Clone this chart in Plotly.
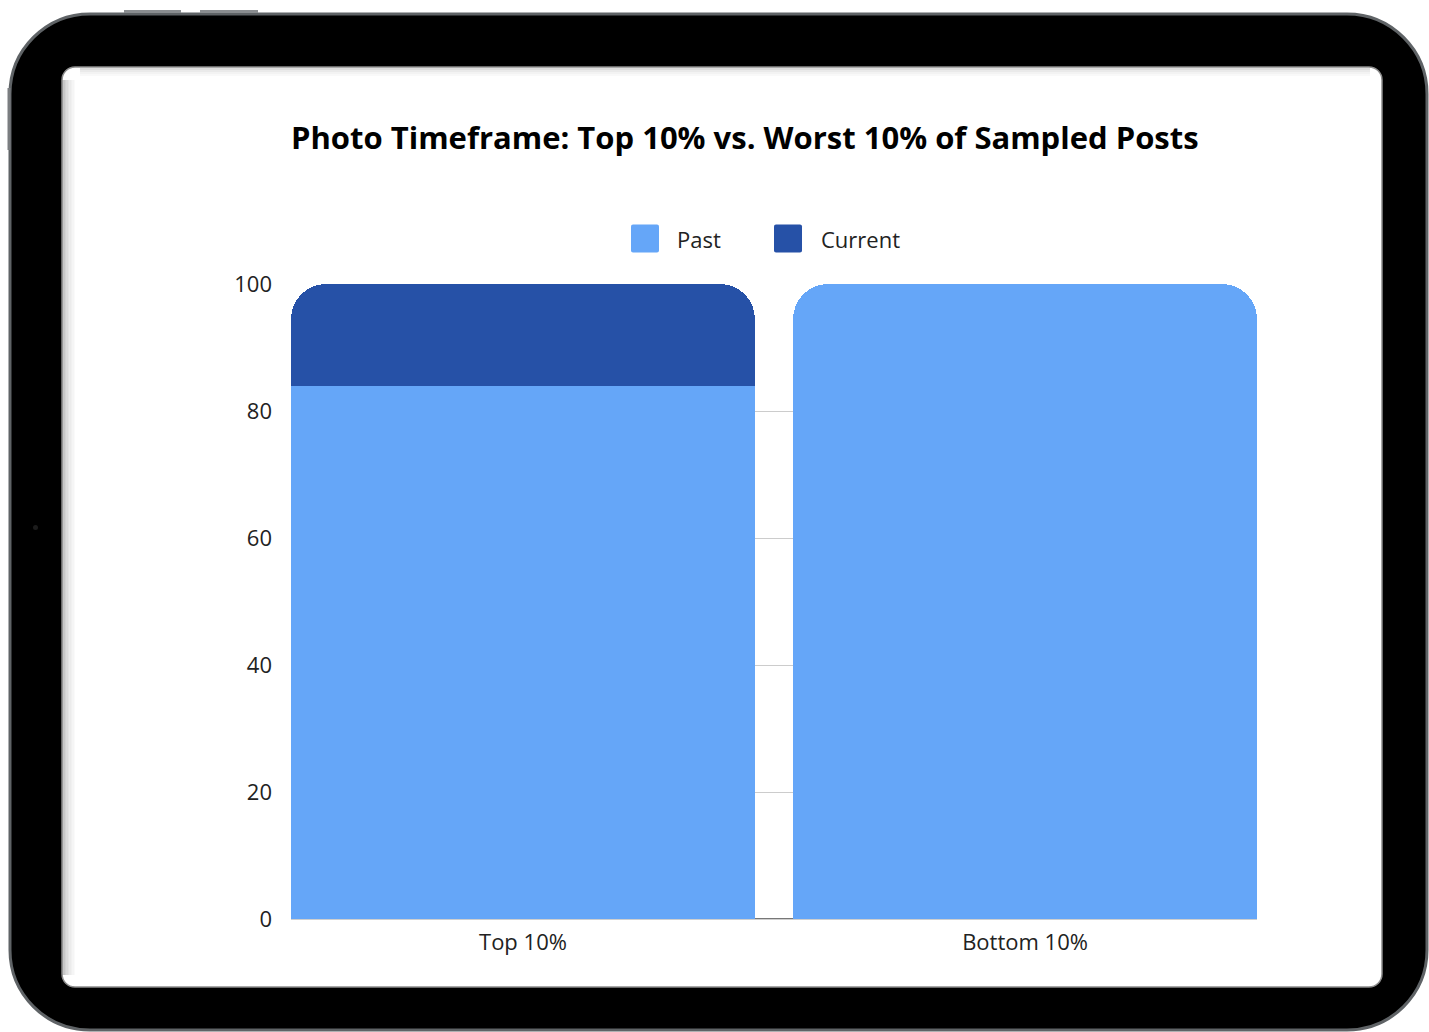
import plotly.graph_objects as go

# ---- data ----
categories = ["Top 10%", "Bottom 10%"]
past = [84, 100]
current = [16, 0]
y_ticks = [0, 20, 40, 60, 80, 100]

PAST_COLOR = "#65a6f8"
CURRENT_COLOR = "#2651a7"
FONT = "Open Sans"

# ---- figure geometry (pixels) ----
W, H = 1429, 1032
PL, PR, PT, PB = 291, 1257, 284, 919  # plot area edges


def px(x):
    return (x - PL) / (PR - PL)


def py(y):
    return (PB - y) / (PB - PT)


def rounded_rect(x0, y0, x1, y1, r):
    """SVG path for a rounded rectangle, pixel coords -> paper coords."""
    k = 0.5523 * r
    pts = [
        ("M", [(x0 + r, y0)]),
        ("L", [(x1 - r, y0)]),
        ("C", [(x1 - r + k, y0), (x1, y0 + r - k), (x1, y0 + r)]),
        ("L", [(x1, y1 - r)]),
        ("C", [(x1, y1 - r + k), (x1 - r + k, y1), (x1 - r, y1)]),
        ("L", [(x0 + r, y1)]),
        ("C", [(x0 + r - k, y1), (x0, y1 - r + k), (x0, y1 - r)]),
        ("L", [(x0, y0 + r)]),
        ("C", [(x0, y0 + r - k), (x0 + r - k, y0), (x0 + r, y0)]),
    ]
    s = ""
    for cmd, ps in pts:
        s += cmd + " ".join(f"{px(a):.5f},{py(b):.5f}" for a, b in ps) + " "
    return s + "Z"


fig = go.Figure()
fig.add_trace(go.Bar(name="Past", x=categories, y=past,
                     marker=dict(color=PAST_COLOR, line=dict(width=0)),
                     showlegend=False, hoverinfo="x+y+name"))
fig.add_trace(go.Bar(name="Current", x=categories, y=current,
                     marker=dict(color=CURRENT_COLOR, line=dict(width=0)),
                     showlegend=False, hoverinfo="x+y+name"))

shapes = []
# tablet body
shapes.append(dict(type="path", xref="paper", yref="paper", layer="below",
                   path=rounded_rect(10, 14, 1427, 1030, 80),
                   fillcolor="#000000", line=dict(color="#5f6366", width=3)))
# hardware buttons
for x0, x1 in [(124, 181), (200, 258)]:
    shapes.append(dict(type="line", xref="paper", yref="paper", layer="below",
                       x0=px(x0), x1=px(x1), y0=py(11.5), y1=py(11.5),
                       line=dict(color="#8a8d90", width=3)))
shapes.append(dict(type="line", xref="paper", yref="paper", layer="below",
                   x0=px(9), x1=px(9), y0=py(88), y1=py(150),
                   line=dict(color="#7a7d80", width=3)))
# camera
shapes.append(dict(type="circle", xref="paper", yref="paper", layer="below",
                   x0=px(33), x1=px(38), y0=py(525), y1=py(530),
                   fillcolor="#1c1c1c", line=dict(width=0)))
# screen
shapes.append(dict(type="path", xref="paper", yref="paper", layer="below",
                   path=rounded_rect(62, 67, 1382, 987, 13),
                   fillcolor="#ffffff", line=dict(color="#8c8c8c", width=1.5)))
# soft inner shading along the screen's left and top edges
for i, op in enumerate([0.22, 0.14, 0.08, 0.04]):
    shapes.append(dict(type="line", xref="paper", yref="paper", layer="below",
                       x0=px(64 + 3 * i), x1=px(64 + 3 * i), y0=py(80), y1=py(975),
                       line=dict(color=f"rgba(0,0,0,{op})", width=3)))
    shapes.append(dict(type="line", xref="paper", yref="paper", layer="below",
                       x0=px(80), x1=px(1370), y0=py(69 + 2 * i), y1=py(69 + 2 * i),
                       line=dict(color=f"rgba(0,0,0,{op * 0.6})", width=2)))

# legend swatches
legend_items = [("Past", PAST_COLOR, 631, 675), ("Current", CURRENT_COLOR, 774, 819)]
annotations = []
for label, color, sx, tx in legend_items:
    shapes.append(dict(type="path", xref="paper", yref="paper",
                       path=rounded_rect(sx, 224.5, sx + 28, 252.5, 2),
                       fillcolor=color, line=dict(width=0)))
    annotations.append(dict(text=label, xref="paper", yref="paper",
                            x=px(tx), y=py(238.5), xanchor="left", yanchor="middle",
                            showarrow=False,
                            font=dict(family=FONT, size=22, color="#222222")))

# title
annotations.append(dict(text="<b>Photo Timeframe: Top 10% vs. Worst 10% of Sampled Posts</b>",
                        xref="paper", yref="paper", x=px(745), y=py(137),
                        xanchor="center", yanchor="middle", showarrow=False,
                        font=dict(family=FONT, size=31, color="#000000")))

fig.update_layout(
    width=W, height=H,
    margin=dict(l=PL, r=W - PR, t=PT, b=H - PB, pad=0),
    paper_bgcolor="#ffffff",
    plot_bgcolor="rgba(0,0,0,0)",
    barmode="stack",
    bargap=0.076,
    barcornerradius=35,
    showlegend=False,
    shapes=shapes,
    annotations=annotations,
    font=dict(family=FONT, size=22, color="#222222"),
    xaxis=dict(range=[-0.462, 1.462], showgrid=False, showline=True,
               linecolor="#cfcfcf", linewidth=1,
               ticks="", tickfont=dict(family=FONT, size=22, color="#222222"),
               ticklabelstandoff=4, fixedrange=True),
    yaxis=dict(range=[0, 100], tickvals=y_ticks, showgrid=True,
               gridcolor="#cccccc", gridwidth=1, zeroline=True,
               zerolinecolor="#777777", zerolinewidth=2, showline=False,
               ticks="", tickfont=dict(family=FONT, size=22, color="#222222"),
               ticklabelstandoff=18, fixedrange=True),
)

fig.write_html("out.html", config={"displayModeBar": False})
